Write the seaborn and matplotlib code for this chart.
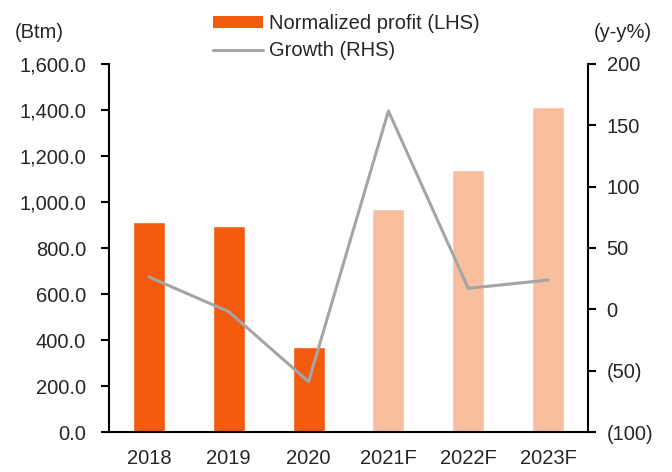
import matplotlib
matplotlib.use("Agg")
import matplotlib.pyplot as plt
import seaborn as sns
import numpy as np
from matplotlib.patches import Patch
from matplotlib.lines import Line2D
from matplotlib.ticker import FuncFormatter, FixedLocator

years = ["2018", "2019", "2020", "2021F", "2022F", "2023F"]
profit = [911, 895, 368, 970, 1139, 1413]
growth = [26.4, -1.9, -59.0, 161.7, 17.1, 23.9]

dark = "#F25A0D"
light = "#F9BE9E"
bar_colors = [dark, dark, dark, light, light, light]

sns.set_style("white")
plt.rcParams["font.family"] = ["Liberation Sans", "DejaVu Sans"]
plt.rcParams["font.size"] = 14.5

fig = plt.figure(figsize=(6.72, 4.72), dpi=100)
ax = fig.add_axes([109 / 672, 40 / 472, 479 / 672, 368 / 472])

sns.barplot(x=years, y=profit, hue=years, palette=bar_colors, legend=False,
            width=0.4, saturation=1, ax=ax)
ax.set_ylim(0, 1600)
ax.set_yticks(np.arange(0, 1601, 200))
ax.yaxis.set_major_formatter(FuncFormatter(lambda v, p: f"{v:,.1f}"))
ax.set_xlim(-0.5, 5.5)

# ticks at category boundaries, labels at centres
ax.xaxis.set_major_locator(FixedLocator(np.arange(-0.5, 6, 1)))
ax.xaxis.set_minor_locator(FixedLocator(np.arange(0, 6)))
ax.set_xticklabels([], minor=False)
ax.set_xticklabels(years, minor=True)
ax.tick_params(axis="x", which="major", direction="out", length=4.5, width=1.5, color="black")
ax.tick_params(axis="x", which="minor", length=0, pad=12.5, labelsize=14.5)
ax.tick_params(axis="y", direction="out", length=5.5, width=1.5, color="black",
               pad=11, labelsize=14.5)

ax2 = ax.twinx()
sns.lineplot(x=np.arange(len(years)), y=growth, color="#A5A5A5", linewidth=2.2, ax=ax2)
ax2.set_ylim(-100, 200)
ax2.set_yticks(np.arange(-100, 201, 50))
ax2.yaxis.set_major_formatter(FuncFormatter(lambda v, p: f"({abs(v):.0f})" if v < 0 else f"{v:.0f}"))
ax2.tick_params(axis="y", direction="out", length=5.5, width=1.5, color="black",
                pad=8, labelsize=14.5)
ax2.set_xlim(-0.5, 5.5)

for a in (ax, ax2):
    a.spines["top"].set_visible(False)
    for s in ("left", "right", "bottom"):
        a.spines[s].set_color("black")
        a.spines[s].set_linewidth(1.5)
ax.spines["right"].set_visible(False)
ax2.spines["left"].set_visible(False)
ax2.spines["bottom"].set_visible(False)

fig.text(15 / 672, 1 - 32 / 472, "(Btm)", va="center", ha="left", fontsize=14.5)
fig.text(652 / 672, 1 - 32 / 472, "(y-y%)", va="center", ha="right", fontsize=14.5)

handles = [Patch(facecolor=dark, edgecolor="none"),
           Line2D([0], [0], color="#A5A5A5", linewidth=2.2)]
fig.legend(handles, ["Normalized profit (LHS)", "Growth (RHS)"],
           loc="upper left", bbox_to_anchor=(195 / 672, 1.008), frameon=False,
           handlelength=2.5, handleheight=0.55, handletextpad=0.25, labelspacing=0.4,
           fontsize=14.5)

fig.savefig("out.png", dpi=100)
